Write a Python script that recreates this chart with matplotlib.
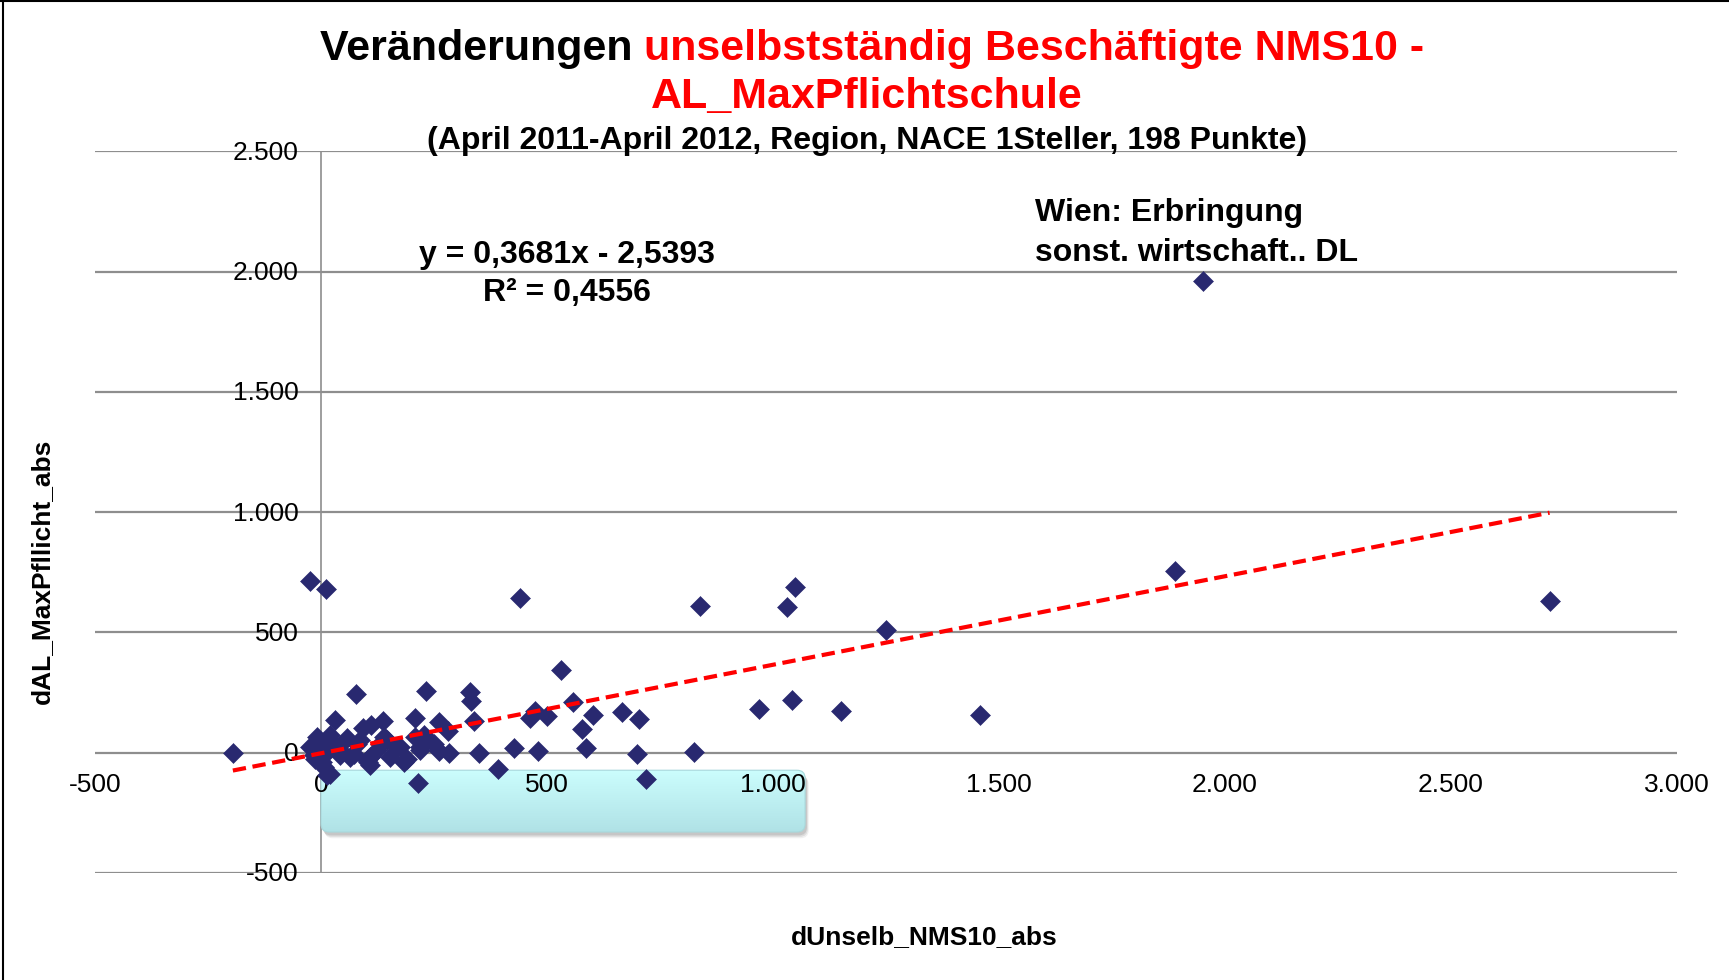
"""Streudiagramm dUnselb_NMS10_abs vs. dAL_MaxPfllicht_abs (Excel-Stil)."""

import numpy as np
import matplotlib
matplotlib.use("Agg")
import matplotlib.pyplot as plt
from matplotlib.patches import FancyBboxPatch
from matplotlib.lines import Line2D
from matplotlib.colors import LinearSegmentedColormap

plt.rcParams["font.family"] = ["Liberation Sans", "DejaVu Sans"]

# -----------------------------------------------------------------------------
# Daten
# -----------------------------------------------------------------------------
x_vals = [
    -195, -25, 10, 77, 31, 233, 330, 331, 338, 208, 137, 262, 280, 350, 426,
    391, 214, 262, 283, 13, 441, 839, 1031, 1049, 530, 969, 1042, 227, 481,
    474, 463, 500, 557, 601, 577, 587, 666, 704, 699, 718, 826, 1150, 1250,
    1459, 1889, 1952, 2718,
    -9, 21, -24, -16, -13, 6, 21, 2, 57, 94, 111, 80, 87, 105, 124, 146, 153,
    175, 183, 190, 208, 220, 227, 231, 249, 220, 43, 43, 6, 65, 72, 109, 109,
    139, 168, 131, 101, 0, 30, -5, 15,
]
y_vals = [
    0, 712, 680, 243, 137, 258, 254, 213, 131, 146, 131, 126, 92, 0, 20,
    -68, -125, 6, 0, -94, 643, 608, 604, 687, 345, 180, 217, 51, 8,
    172, 146, 154, 210, 157, 99, 19, 169, 142, -5, -108, 3, 175, 509,
    157, 756, 1962, 632,
    65, 75, 23, -11, -25, -60, -87, -40, 62, 102, 116, 37, 51, -39, 10, 51, -20,
    23, -39, -25, 65, 23, 72, 51, 37, 10, 10, -8, -4, -18, -4, -18, -53,
    65, 23, 37, -32, 20, 30, 40, 5,
]

trend_slope = 0.3681
trend_intercept = -2.5393
trend_label = "y = 0,3681x - 2,5393\nR² = 0,4556"

x_ticks = [-500, 0, 500, 1000, 1500, 2000, 2500, 3000]
y_ticks = [-500, 0, 500, 1000, 1500, 2000, 2500]

MARKER = "#292970"
GRID = "#8E8E8E"


def de_num(v):
    return f"{v:,.0f}".replace(",", ".")


# -----------------------------------------------------------------------------
# Figur
# -----------------------------------------------------------------------------
W, H = 1729, 980
fig = plt.figure(figsize=(W / 100, H / 100), dpi=100)
ax = fig.add_axes([95 / W, 1 - 872.9 / H, (1677 - 95) / W, (872.9 - 151.5) / H])
ax.set_xlim(-500, 3000)
ax.set_ylim(-500, 2500)
for s in ax.spines.values():
    s.set_visible(False)
ax.set_xticks([])
ax.set_yticks([])
ax.patch.set_alpha(0)

# Gitterlinien + senkrechte Achse bei x=0
for yt in y_ticks:
    ax.axhline(yt, color=GRID, lw=1.6, zorder=1)
ax.plot([0, 0], [-500, 2500], color=GRID, lw=1.2, zorder=1)

# leeres Textfeld (türkis, abgerundet, mit Schatten)
bx0, bx1, by0, by1 = 0, 1071, -330, -73
asp = (1 / 0.2412) / (1 / 0.452)
for i, a in enumerate([0.10, 0.08, 0.06]):
    sh = FancyBboxPatch((bx0 + 4 + i * 2, by0 - 14 - i * 6), bx1 - bx0, by1 - by0,
                        boxstyle="round,pad=0,rounding_size=18", mutation_aspect=asp,
                        fc="black", ec="none", alpha=a, zorder=2)
    ax.add_patch(sh)
box = FancyBboxPatch((bx0, by0), bx1 - bx0, by1 - by0,
                     boxstyle="round,pad=0,rounding_size=18", mutation_aspect=asp,
                     fc="none", ec="#A8D8DC", lw=0.8, zorder=3.2)
ax.add_patch(box)
grad = np.linspace(0, 1, 100).reshape(-1, 1)
cmap = LinearSegmentedColormap.from_list("cy", ["#CBFDFD", "#B0E2E6"])
im = ax.imshow(grad, extent=(bx0, bx1, by0, by1), origin="upper", cmap=cmap,
               aspect="auto", zorder=3, interpolation="bilinear")
im.set_clip_path(box)
ax.set_xlim(-500, 3000)
ax.set_ylim(-500, 2500)

# Tick-Beschriftungen (Excel: an der Achse bei 0)
for yt in y_ticks:
    ax.annotate(de_num(yt), xy=(0, yt), xytext=(-16, -1), textcoords="offset points",
                ha="right", va="center", fontsize=19, color="black", zorder=3.5)
for xt in x_ticks:
    ax.annotate(de_num(xt), xy=(xt, 0), xytext=(0, -23), textcoords="offset points",
                ha="center", va="center", fontsize=19, color="black", zorder=3.5)

# Punkte
ax.plot(x_vals, y_vals, linestyle="none", marker="D", ms=10, color=MARKER,
        mec=MARKER, mew=0.4, zorder=4)

# lineare Trendlinie
xs = np.array([min(x_vals), max(x_vals)])
ax.plot(xs, trend_slope * xs + trend_intercept, color="#FF0000", lw=3,
        dashes=(3.2, 1.6), zorder=5)

# Beschriftungen im Diagramm
fig.text(567 / W, 1 - 274 / H, trend_label, ha="center", va="center",
         fontsize=23, fontweight="bold", linespacing=1.36)
fig.text(1035 / W, 1 - 233 / H, "Wien: Erbringung\nsonst. wirtschaft.. DL",
         ha="left", va="center", fontsize=23, fontweight="bold", linespacing=1.4)

# Titel (zweifarbig)
t1 = fig.text(320 / W, 1 - 49 / H, "Veränderungen ", ha="left", va="center",
              fontsize=31, fontweight="bold", color="black")
ax.annotate("unselbstständig Beschäftigte NMS10 -", xy=(1, 0.5), xycoords=t1,
            ha="left", va="center", fontsize=31, fontweight="bold", color="#FF0000",
            annotation_clip=False)
fig.text(867 / W, 1 - 97 / H, "AL_MaxPflichtschule", ha="center", va="center",
         fontsize=31, fontweight="bold", color="#FF0000")
fig.text(867 / W, 1 - 141 / H,
         "(April 2011-April 2012, Region, NACE 1Steller, 198 Punkte)",
         ha="center", va="center", fontsize=23, fontweight="bold")

# Achsentitel
fig.text(42 / W, 1 - 571 / H, "dAL_MaxPfllicht_abs", rotation=90, ha="center",
         va="center", fontsize=19, fontweight="bold")
fig.text(924 / W, 1 - 937 / H, "dUnselb_NMS10_abs", ha="center", va="center",
         fontsize=19, fontweight="bold")

# Rahmen links/oben
fig.add_artist(Line2D([3 / W, 3 / W], [0, 1], transform=fig.transFigure,
                      color="black", lw=1.5))
fig.add_artist(Line2D([0, 1], [1 - 1.5 / H, 1 - 1.5 / H], transform=fig.transFigure,
                      color="black", lw=1.5))

fig.savefig("out.png", dpi=100)
